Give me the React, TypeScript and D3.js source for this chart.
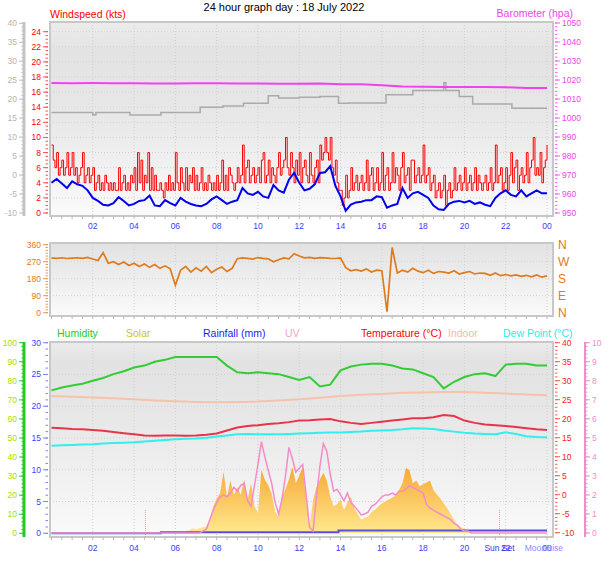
import * as d3 from 'd3';

const FONT = '"Liberation Sans", Arial, sans-serif';

// hours 0..24, tick labels along the time axis
const hourTicks = [2, 4, 6, 8, 10, 12, 14, 16, 18, 20, 22, 24];
const hourLabels = ['02', '04', '06', '08', '10', '12', '14', '16', '18', '20', '22', '00'];

// wind gust (kts), every 5 minutes (one row per hour)
const gust = [
    9, 7, 6, 8, 5, 6, 7, 5, 6, 8, 5, 6,
    8, 5, 6, 4, 5, 6, 8, 4, 5, 6, 4, 5,
    6, 3, 4, 5, 3, 4, 3, 5, 4, 3, 4, 3,
    4, 3, 3, 6, 3, 4, 5, 3, 4, 3, 5, 4,
    6, 3, 8, 4, 7, 3, 5, 4, 8, 3, 6, 3,
    5, 3, 3, 4, 3, 2, 4, 3, 5, 3, 4, 3,
    8, 4, 3, 6, 4, 3, 6, 3, 5, 4, 6, 3,
    5, 3, 4, 6, 3, 4, 3, 5, 4, 3, 4, 3,
    5, 3, 4, 7, 3, 5, 3, 6, 5, 4, 3, 4,
    6, 4, 5, 9, 4, 6, 7, 4, 5, 6, 4, 5,
    6, 4, 7, 8, 4, 5, 7, 4, 6, 5, 4, 6,
    8, 5, 6, 7, 10, 6, 5, 8, 6, 4, 7, 5,
    8, 4, 6, 7, 5, 4, 8, 5, 4, 6, 7, 4,
    9, 7, 8, 10, 8, 7, 10, 6, 5, 7, 4, 3,
    3, 1, 2, 5, 2, 3, 6, 3, 4, 5, 3, 4,
    5, 3, 4, 7, 3, 5, 6, 3, 4, 6, 3, 4,
    8, 3, 5, 6, 3, 4, 8, 4, 6, 5, 3, 6,
    8, 4, 5, 6, 3, 7, 7, 4, 5, 6, 4, 5,
    9, 4, 5, 6, 3, 4, 5, 2, 3, 4, 2, 3,
    5, 1, 3, 4, 2, 3, 6, 3, 4, 5, 3, 4,
    6, 3, 4, 5, 3, 4, 6, 3, 5, 4, 3, 4,
    5, 3, 4, 6, 3, 4, 9, 4, 5, 6, 3, 4,
    6, 3, 5, 8, 4, 6, 7, 3, 5, 6, 4, 5,
    8, 4, 6, 7, 10, 5, 6, 5, 8, 4, 6, 7,
    9,
];

// average wind speed (kts), every 15 minutes
const windAvg = [
    4.0, 4.5, 3.9, 3.3, 4.2, 3.8, 3.6, 3.0, 2.0, 1.6, 1.1, 1.0, 1.3, 2.1, 1.6, 1.0,
    1.2, 1.6, 1.7, 2.3, 1.0, 0.9, 1.7, 1.3, 1.0, 2.0, 1.5, 1.2, 1.0, 0.9, 1.2, 1.8,
    2.2, 1.7, 1.2, 1.5, 1.7, 3.3, 2.6, 2.4, 2.8, 2.2, 2.0, 3.7, 3.0, 2.7, 4.4, 5.3,
    4.0, 3.0, 3.2, 3.8, 5.3, 5.4, 6.2, 3.6, 2.2, 0.3, 1.1, 1.4, 1.5, 1.7, 1.7, 2.2,
    2.1, 0.7, 1.0, 1.2, 3.3, 2.0, 2.6, 2.8, 2.4, 2.0, 1.0, 0.5, 0.4, 1.2, 1.5, 1.6,
    1.4, 1.6, 1.2, 1.4, 1.1, 0.9, 2.0, 2.6, 3.0, 2.4, 2.2, 3.0, 2.2, 2.6, 3.0, 2.6,
    2.6,
];

// barometer (hpa), hourly
const baro = [
    1018.4, 1018.3, 1018.4, 1018.3, 1018.3, 1018.2, 1018.2, 1018.3, 1018.3, 1018.2,
    1018.2, 1018.0, 1018.0, 1018.1, 1017.8, 1017.7, 1017.2, 1016.6, 1016.4, 1016.3,
    1016.3, 1016.3, 1016.2, 1015.8, 1015.8,
];

// grey trace (grey left scale), stepped
const greyHours = [0, 2.0, 2.15, 3.8, 5.3, 7.2, 8.3, 9.3, 10.5, 11.0, 12.0, 13.0, 13.9, 14.4, 16.2, 17.5, 19.0, 19.1, 19.75, 20.4, 22.3, 24];
const greyValues = [16.5, 15.8, 16.5, 15.8, 16.5, 17.9, 18.2, 18.9, 20.9, 20.3, 20.5, 20.7, 18.9, 19.0, 21.2, 22.3, 24.3, 22.3, 20.7, 18.7, 17.6, 17.6];

// wind direction (deg), every 15 minutes
const direction = [
    290, 288, 291, 287, 289, 291, 288, 293, 284, 276, 318, 262, 270, 255, 268, 250,
    262, 245, 258, 240, 255, 235, 248, 232, 145, 225, 245, 215, 238, 220, 245, 212,
    230, 242, 218, 235, 286, 290, 288, 284, 292, 288, 285, 270, 280, 290, 285, 312,
    300, 290, 293, 288, 292, 290, 288, 287, 290, 238, 222, 228, 220, 232, 215, 225,
    222, 5, 345, 210, 225, 215, 235, 220, 212, 225, 208, 218, 215, 210, 222, 205,
    212, 218, 205, 210, 208, 198, 210, 196, 202, 195, 200, 192, 198, 190, 200, 188,
    195,
];

// half-hourly series
const humidity = [
    75, 76.5, 77.5, 78.5, 80, 81.5, 83.5, 85, 87, 88, 90, 91, 92.5, 92.5, 92.5, 92.5,
    92.5, 88, 84.5, 84, 84.5, 84, 83.5, 82, 80.5, 82, 77, 78, 85.5, 87.5, 88.5, 89,
    89, 88, 86.5, 86, 84, 82, 76, 79.5, 82, 83.5, 84, 82.5, 88.5, 89, 89, 88, 88,
];
const temperature = [
    17.6, 17.5, 17.3, 17.2, 17.0, 16.8, 16.5, 16.2, 15.9, 15.6, 15.5, 15.6, 15.6, 15.5, 15.6, 15.8,
    16.1, 16.9, 17.7, 18.1, 18.3, 18.6, 18.8, 19.1, 19.5, 19.6, 19.8, 19.9, 19.3, 18.9, 18.6, 18.9,
    19.2, 19.5, 19.8, 20.1, 20.1, 20.4, 21.0, 20.7, 19.5, 18.9, 18.5, 18.3, 18.1, 17.8, 17.5, 17.2,
    17.0,
];
const dewPoint = [
    12.9, 13.0, 13.1, 13.2, 13.3, 13.5, 13.6, 13.7, 13.8, 14.0, 14.2, 14.4, 14.6, 14.7, 14.8, 15.0,
    15.3, 15.6, 15.9, 16.0, 15.9, 15.9, 15.9, 16.0, 16.1, 16.2, 16.3, 16.4, 16.4, 16.5, 16.6, 16.8,
    16.9, 17.0, 17.2, 17.5, 17.4, 17.3, 16.9, 16.6, 16.3, 16.1, 16.0, 15.9, 16.4, 16.0, 15.4, 15.2,
    15.1,
];
// indoor temperature, hourly
const indoor = [
    26.0, 25.8, 25.6, 25.4, 25.1, 24.8, 24.6, 24.4, 24.3, 24.4, 24.5, 24.8, 25.1, 25.5, 26.0, 26.3,
    26.5, 26.8, 26.9, 27.0, 27.0, 26.8, 26.6, 26.4, 26.2,
];

// rainfall (mm), stepped
const rainHours = [0, 5.3, 13.9, 24];
const rainValues = [0, 0.15, 0.45, 0.45];

// solar (W/m2) and UV index, every 10 minutes from 06:30 to 20:30
const sunStart = 6.5;
const solar = [
    10, 15, 25, 20, 25, 30, 35, 70, 140, 180, 210, 320,
    190, 275, 200, 240, 200, 280, 175, 260, 140, 105, 330, 280,
    250, 205, 110, 85, 190, 230, 280, 345, 260, 300, 345, 175,
    35, 170, 240, 280, 315, 275, 190, 140, 150, 175, 120, 160,
    190, 130, 100, 70, 80, 85, 110, 120, 140, 155, 165, 175,
    185, 195, 225, 260, 340, 330, 260, 275, 245, 255, 265, 275,
    225, 200, 180, 155, 130, 100, 70, 45, 30, 25, 16, 6,
    0,
];
const uv = [
    0, 0, 0, 0, 0, 0.1, 0.2, 0.7, 1.2, 1.6, 1.9, 2.0,
    1.9, 2.1, 2.4, 2.2, 2.5, 2.6, 1.7, 1.4, 2.5, 3.6, 4.8, 4.0,
    3.3, 2.6, 1.6, 1.0, 1.8, 3.0, 4.5, 3.9, 3.2, 3.4, 3.6, 2.0,
    0.3, 0.1, 1.9, 3.5, 4.7, 4.3, 3.1, 2.2, 2.3, 2.0, 1.7, 2.1,
    1.6, 1.4, 1.2, 0.95, 1.0, 1.1, 1.4, 1.5, 1.7, 1.9, 2.0, 2.0,
    2.1, 2.0, 2.2, 2.2, 2.3, 2.5, 2.4, 2.3, 2.2, 2.1, 1.5, 1.3,
    1.2, 1.1, 1.0, 0.9, 0.8, 0.7, 0.5, 0.4, 0.2, 0.1, 0.1, 0,
    0,
];

// sun/moon markers
const markerHours = [4.55, 21.7];
const eventLabels = [
    { hour: 21.7, text: 'Sun Set', color: '#3434e8' },
    { hour: 23.85, text: 'MoonRise', color: '#8c8cff' },
];

const legend = [
    { text: 'Humidity', x: 57, color: '#22cc22' },
    { text: 'Solar', x: 126, color: '#d4c21a' },
    { text: 'Rainfall (mm)', x: 203, color: '#1a1aff' },
    { text: 'UV', x: 285, color: '#f4a0d4' },
    { text: 'Temperature (°C)', x: 361, color: '#ff0000' },
    { text: 'Indoor', x: 448, color: '#f4b8a0' },
    { text: 'Dew Point (°C)', x: 503, color: '#22eeee' },
];

const X0 = 50;
const X1 = 553;
const top = { y0: 22, y1: 216 };
const mid = { y0: 243, y1: 316 };
const bot = { y0: 342, y1: 537 };

const x = d3.scaleLinear().domain([0, 24]).range([51.5, 547]);

const windY = d3.scaleLinear().domain([0, 24]).range([213, 31.7]);
const greyY = d3.scaleLinear().domain([-10, 40]).range([213, 23.3]);
const baroY = d3.scaleLinear().domain([950, 1050]).range([213, 23]);
const dirY = d3.scaleLinear().domain([0, 360]).range([312.7, 244.7]);
const humY = d3.scaleLinear().domain([0, 100]).range([533.3, 342.7]);
const rainY = d3.scaleLinear().domain([0, 30]).range([533.3, 342.7]);
const tempY = d3.scaleLinear().domain([-10, 40]).range([532.7, 342.7]);
const uvY = d3.scaleLinear().domain([0, 10]).range([533, 342.7]);
const solarY = d3.scaleLinear().domain([0, 1000]).range([533, 342]);

type Pt = [number, number];

function series(values: number[], step: number, start = 0): Pt[] {
    return values.map((v, i) => [start + i * step, v]);
}

function linePath(data: Pt[], y: d3.ScaleLinear<number, number>, curve: d3.CurveFactory = d3.curveLinear) {
    return (
        d3
            .line<Pt>()
            .x((d) => x(d[0]))
            .y((d) => y(d[1]))
            .curve(curve)(data) ?? ''
    );
}

function YAxis({
    scale,
    at,
    major,
    minor,
    side,
    tickColor,
    labelColor,
    lineColor,
    lineWidth = 1,
    span,
    fmt = (v: number) => String(v),
}: {
    scale: d3.ScaleLinear<number, number>;
    at: number;
    major: number;
    minor: number;
    side: 'left' | 'right';
    tickColor: string;
    labelColor: string;
    lineColor?: string;
    lineWidth?: number;
    span: [number, number];
    fmt?: (v: number) => string;
}) {
    const [d0, d1] = scale.domain();
    const majors = d3.range(d0, d1 + 1e-6, major);
    const minors = d3.range(d0, d1 + 1e-6, minor);
    const dir = side === 'left' ? -1 : 1;
    return (
        <g>
            {lineColor && (
                <line x1={at} x2={at} y1={span[0]} y2={span[1]} stroke={lineColor} strokeWidth={lineWidth} />
            )}
            {minors.map((v, i) => (
                <line key={'m' + i} x1={at} x2={at + dir * 2.5} y1={scale(v)} y2={scale(v)} stroke={tickColor} />
            ))}
            {majors.map((v, i) => (
                <g key={'M' + i}>
                    <line x1={at} x2={at + dir * 5} y1={scale(v)} y2={scale(v)} stroke={tickColor} />
                    <text
                        x={at + dir * 7}
                        y={scale(v)}
                        dy="0.35em"
                        textAnchor={side === 'left' ? 'end' : 'start'}
                        fill={labelColor}
                        fontSize={8.5}
                    >
                        {fmt(v)}
                    </text>
                </g>
            ))}
        </g>
    );
}

function Frame({ y0, y1, grad, gridYs }: { y0: number; y1: number; grad: string; gridYs: number[] }) {
    const halfHours = d3.range(0, 24.01, 0.5);
    return (
        <g>
            <rect x={X0} y={y0} width={X1 - X0} height={y1 - y0} fill={`url(#${grad})`} />
            {gridYs.map((gy, i) => (
                <line key={'h' + i} x1={X0} x2={X1} y1={gy} y2={gy} stroke="#d2d2d2" strokeDasharray="1,2" />
            ))}
            {hourTicks.map((h) => (
                <line key={'v' + h} x1={x(h)} x2={x(h)} y1={y0} y2={y1} stroke="#cfcfcf" strokeDasharray="1,2" />
            ))}
            <rect x={X0} y={y0} width={X1 - X0} height={y1 - y0} fill="none" stroke="#c8c8c8" strokeWidth={2} />
            {halfHours.map((h) => (
                <line key={'t' + h} x1={x(h)} x2={x(h)} y1={y1} y2={y1 + 3} stroke="#b8b8b8" />
            ))}
        </g>
    );
}

export default function App() {
    const gustData = series(gust, 1 / 12);
    const avgData = series(windAvg, 0.25);
    const baroData = series(baro, 1);
    const greyData: Pt[] = greyHours.map((h, i) => [h, greyValues[i]]);
    const dirData = series(direction, 0.25);
    const humData = series(humidity, 0.5);
    const tempData = series(temperature, 0.5);
    const dewData = series(dewPoint, 0.5);
    const indoorData = series(indoor, 1);
    const rainData: Pt[] = rainHours.map((h, i) => [h, rainValues[i]]);
    const solarData = series(solar, 1 / 6, sunStart);
    const uvData: Pt[] = [[0, 0], ...series(uv, 1 / 6, sunStart), [24, 0]];

    const solarArea =
        d3
            .area<Pt>()
            .x((d) => x(d[0]))
            .y0(solarY(0))
            .y1((d) => solarY(d[1]))(solarData) ?? '';

    return (
        <svg
            width={608}
            height={561}
            style={{ position: 'absolute', left: 0, top: 0, background: '#fff' }}
            fontFamily={FONT}
        >
            <defs>
                <linearGradient id="bgTop" x1="0" y1="0" x2="0" y2="1">
                    <stop offset="0" stopColor="#ececec" />
                    <stop offset="0.15" stopColor="#e3e3e3" />
                    <stop offset="0.5" stopColor="#e8e8e8" />
                    <stop offset="1" stopColor="#fafafa" />
                </linearGradient>
                <linearGradient id="bgMid" x1="0" y1="0" x2="0" y2="1">
                    <stop offset="0" stopColor="#e2e2e2" />
                    <stop offset="1" stopColor="#fafafa" />
                </linearGradient>
                <linearGradient id="bgBot" x1="0" y1="0" x2="0" y2="1">
                    <stop offset="0" stopColor="#ececec" />
                    <stop offset="0.1" stopColor="#e2e2e2" />
                    <stop offset="0.45" stopColor="#e9e9e9" />
                    <stop offset="1" stopColor="#fafafa" />
                </linearGradient>
                <linearGradient id="solarFill" gradientUnits="userSpaceOnUse" x1="0" y1={solarY(350)} x2="0" y2={solarY(0)}>
                    <stop offset="0" stopColor="#f6a833" />
                    <stop offset="1" stopColor="#ffe88e" />
                </linearGradient>
            </defs>

            <text x={284} y={11} textAnchor="middle" fontSize={11} fill="#000">
                24 hour graph day : 18 July 2022
            </text>

            {/* wind + barometer panel */}
            <text x={50} y={18} fontSize={10.5} fill="#ff0000">
                Windspeed (kts)
            </text>
            <text x={573} y={17} fontSize={10.5} fill="#ee44ee" textAnchor="end">
                Barometer (hpa)
            </text>
            <Frame y0={top.y0} y1={top.y1} grad="bgTop" gridYs={d3.range(2, 25, 2).map((v) => windY(v))} />
            <path d={linePath(greyData, greyY, d3.curveStepAfter)} fill="none" stroke="#aaaaaa" strokeWidth={1.5} />
            <path d={linePath(baroData, baroY)} fill="none" stroke="#ee44ee" strokeWidth={2} />
            <path d={linePath(gustData, windY, d3.curveStepAfter)} fill="none" stroke="#ff0000" strokeWidth={1} />
            <path d={linePath(avgData, windY)} fill="none" stroke="#0000ee" strokeWidth={2} />
            <YAxis
                scale={greyY}
                at={24}
                major={5}
                minor={1}
                side="left"
                tickColor="#c0c0c0"
                labelColor="#b4b4b4"
                lineColor="#c4c4c4"
                lineWidth={3}
                span={[top.y0, top.y1]}
            />
            <YAxis
                scale={windY}
                at={48}
                major={2}
                minor={0.5}
                side="left"
                tickColor="#ff5050"
                labelColor="#ff0000"
                span={[top.y0, top.y1]}
            />
            <YAxis
                scale={baroY}
                at={555}
                major={10}
                minor={2}
                side="right"
                tickColor="#ee66ee"
                labelColor="#ee44ee"
                span={[top.y0, top.y1]}
            />
            {hourTicks.map((h, i) => (
                <text key={h} x={x(h)} y={229} textAnchor="middle" fontSize={8.5} fill="#3b3bff">
                    {hourLabels[i]}
                </text>
            ))}

            {/* wind direction panel */}
            <Frame y0={mid.y0} y1={mid.y1} grad="bgMid" gridYs={[90, 180, 270].map((v) => dirY(v))} />
            <path d={linePath(dirData, dirY)} fill="none" stroke="#e07a1c" strokeWidth={1.7} />
            <YAxis
                scale={dirY}
                at={48}
                major={90}
                minor={15}
                side="left"
                tickColor="#eb9a50"
                labelColor="#e07a1c"
                span={[mid.y0, mid.y1]}
            />
            {['N', 'W', 'S', 'E', 'N'].map((c, i) => (
                <text key={i} x={558} y={dirY(360 - i * 90)} dy="0.38em" fontSize={12} fill="#e07a1c">
                    {c}
                </text>
            ))}

            {/* weather panel */}
            {legend.map((l) => (
                <text key={l.text} x={l.x} y={337} fontSize={10.5} fill={l.color}>
                    {l.text}
                </text>
            ))}
            <Frame y0={bot.y0} y1={bot.y1} grad="bgBot" gridYs={d3.range(5, 31, 5).map((v) => rainY(v))} />
            <path d={solarArea} fill="url(#solarFill)" />
            {markerHours.map((h) => (
                <line
                    key={h}
                    x1={x(h)}
                    x2={x(h)}
                    y1={tempY(-4)}
                    y2={bot.y1}
                    stroke="#f0a080"
                    strokeDasharray="1,1"
                />
            ))}
            <path d={linePath(rainData, rainY, d3.curveStepAfter)} fill="none" stroke="#5a4fe0" strokeWidth={2} />
            <path d={linePath(uvData, uvY)} fill="none" stroke="#f48ccc" strokeWidth={1.5} />
            <path d={linePath(dewData, tempY)} fill="none" stroke="#33eeee" strokeWidth={2} />
            <path d={linePath(indoorData, tempY)} fill="none" stroke="#f6c2aa" strokeWidth={2} />
            <path d={linePath(tempData, tempY)} fill="none" stroke="#e8344a" strokeWidth={2} />
            <path d={linePath(humData, humY)} fill="none" stroke="#33cc33" strokeWidth={2} />
            <YAxis
                scale={humY}
                at={24}
                major={10}
                minor={2}
                side="left"
                tickColor="#22cc22"
                labelColor="#a4e000"
                lineColor="#22cc22"
                lineWidth={3}
                span={[bot.y0, bot.y1]}
            />
            <YAxis
                scale={rainY}
                at={48}
                major={5}
                minor={1}
                side="left"
                tickColor="#8080ff"
                labelColor="#4040ff"
                span={[bot.y0, bot.y1]}
            />
            <YAxis
                scale={tempY}
                at={555}
                major={5}
                minor={1}
                side="right"
                tickColor="#ff5a5a"
                labelColor="#ff2020"
                span={[bot.y0, bot.y1]}
            />
            <YAxis
                scale={uvY}
                at={585}
                major={1}
                minor={0.2}
                side="right"
                tickColor="#f48ccc"
                labelColor="#f48ccc"
                lineColor="#f48ccc"
                lineWidth={2}
                span={[bot.y0, bot.y1]}
            />
            {hourTicks.map((h, i) => (
                <text key={h} x={x(h)} y={551} textAnchor="middle" fontSize={8.5} fill="#3b3bff">
                    {hourLabels[i]}
                </text>
            ))}
            {eventLabels.map((e) => (
                <text key={e.text} x={x(e.hour)} y={551} textAnchor="middle" fontSize={8.5} fill={e.color}>
                    {e.text}
                </text>
            ))}
        </svg>
    );
}
